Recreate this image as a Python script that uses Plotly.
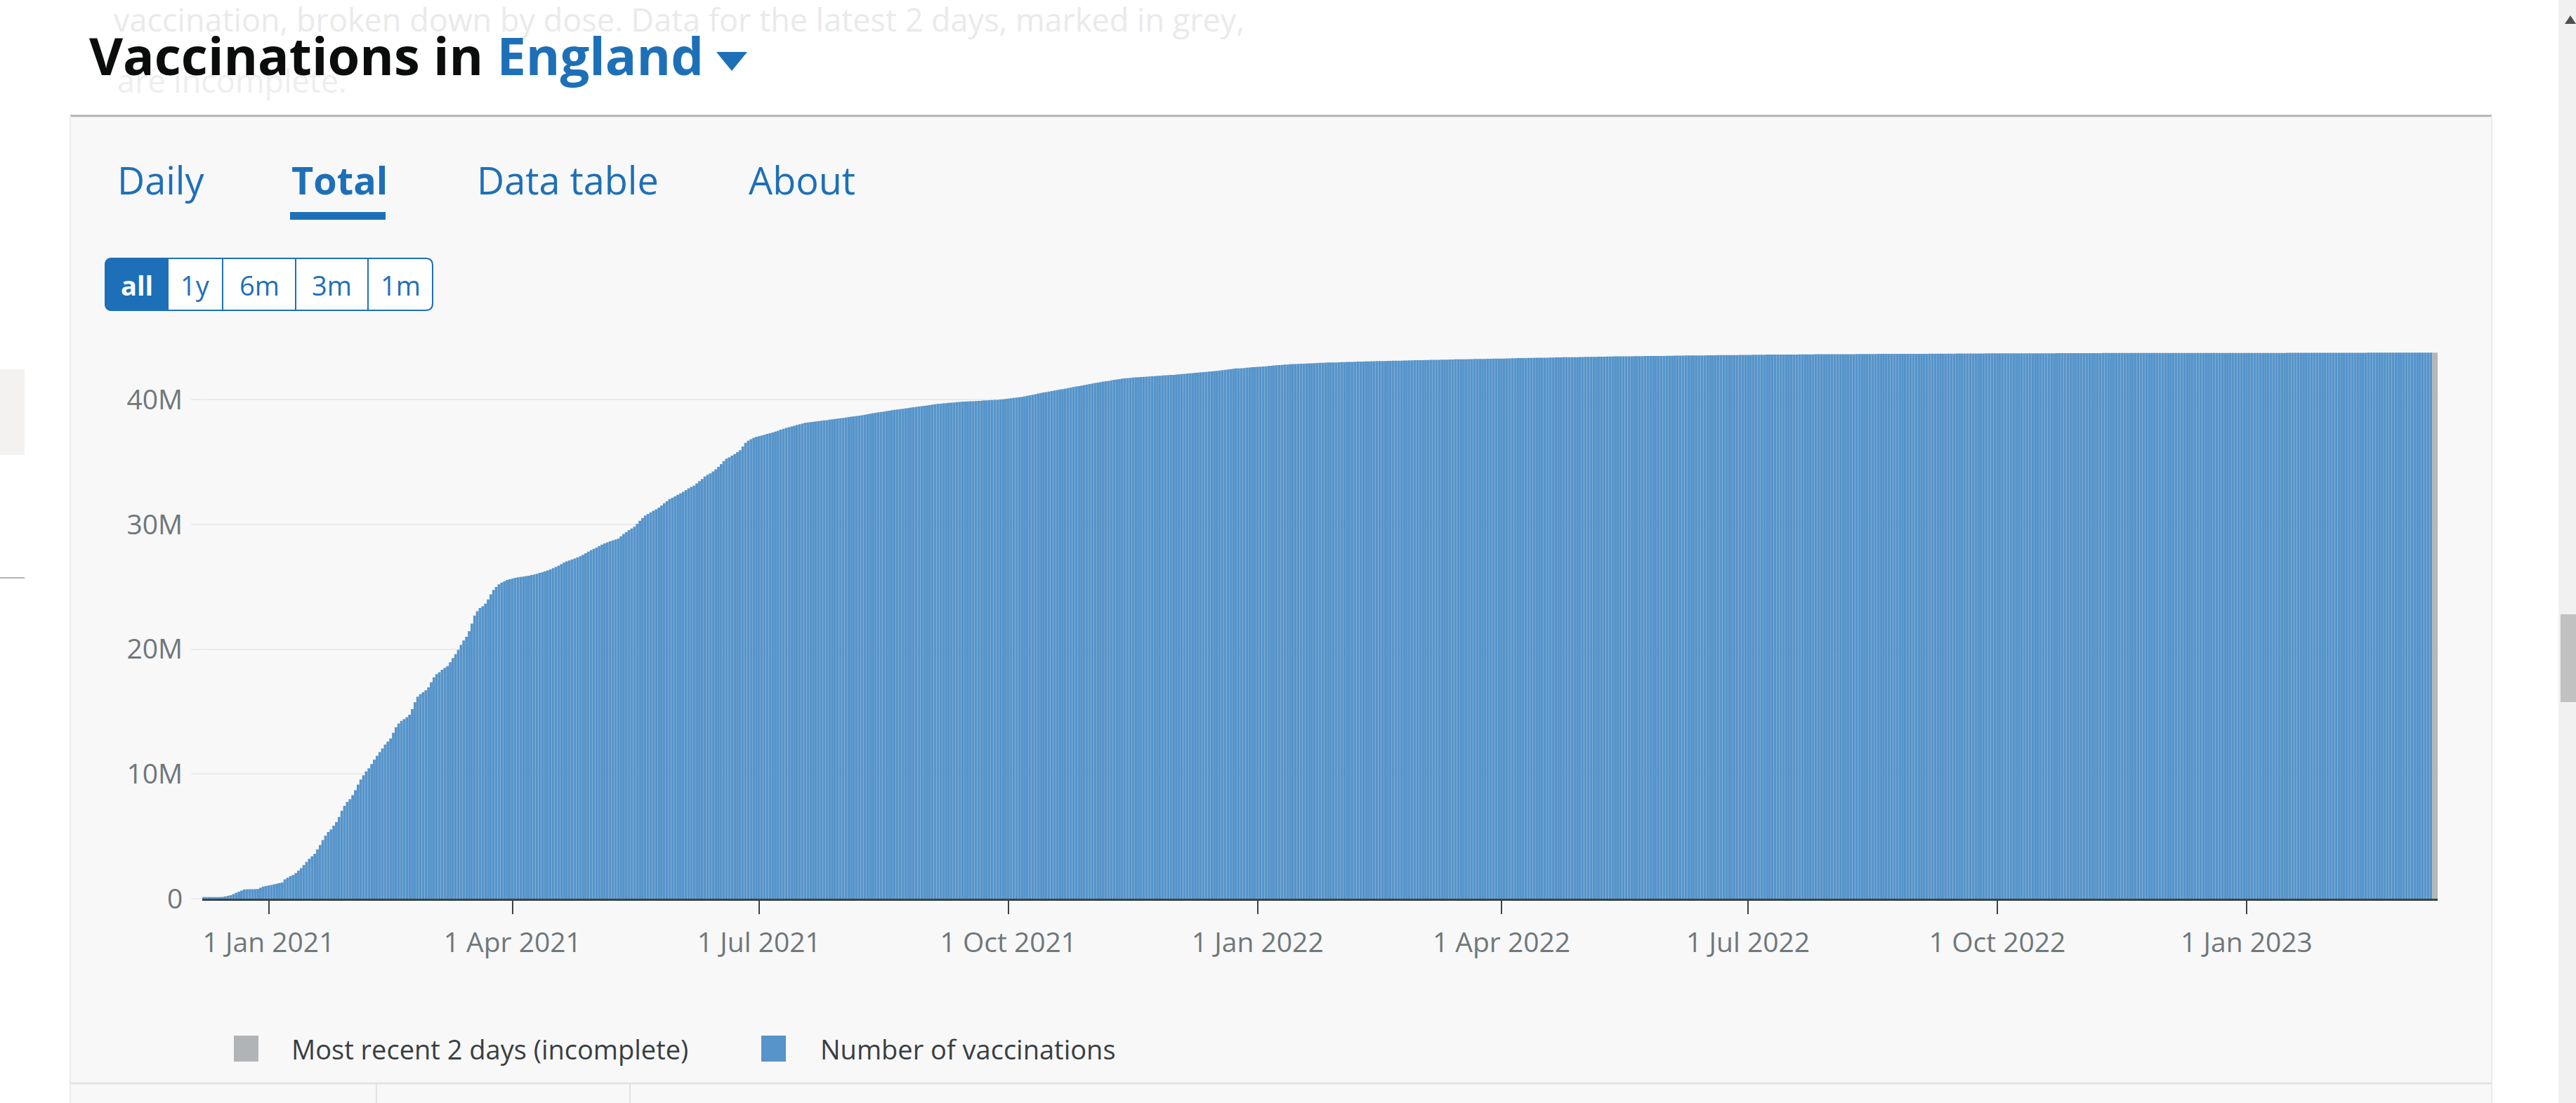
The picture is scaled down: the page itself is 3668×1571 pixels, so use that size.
import pandas as pd
import plotly.graph_objects as go

# ---------------- data (cumulative vaccinations, millions, daily) ----------------
start_date = "2020-12-08"
end_date = "2023-03-12"

v2020_12 = [0.13,0.13,0.13,0.13,0.13,0.13,0.13,0.14,0.18,0.23,0.28,0.37,0.47,0.56,0.65,0.74,
            0.75,0.76,0.76,0.77,0.78,0.88,0.97,1.01]
v2021_01 = [1.06,1.10,1.15,1.20,1.25,1.30,1.55,1.68,1.80,1.90,2.05,2.25,2.45,2.70,2.95,3.20,
            3.40,3.60,3.95,4.30,4.70,5.05,5.35,5.55,5.85,6.15,6.55,7.05,7.45,7.75,7.98]
v2021_02 = [8.30,8.70,9.15,9.55,9.90,10.20,10.45,10.80,11.15,11.45,11.75,12.05,12.35,12.60,
            12.85,13.30,13.75,14.05,14.25,14.40,14.55,14.75,15.20,15.75,16.20,16.40,16.55,16.70]
v2021_03 = [16.95,17.35,17.75,18.00,18.15,18.35,18.50,18.65,18.95,19.30,19.60,19.95,20.35,
            20.70,21.00,21.45,22.05,22.70,23.05,23.30,23.45,23.65,24.00,24.40,24.75,25.00,
            25.20,25.35,25.45,25.55,25.62]
v2021_04 = [25.67,25.72,25.77,25.80,25.83,25.86,25.90,25.95,26.00,26.05,26.12,26.18,26.25,
            26.32,26.40,26.50,26.60,26.70,26.82,26.95,27.05,27.12,27.20,27.28,27.36,27.46,
            27.57,27.69,27.82,27.95]
v2021_05 = [28.05,28.15,28.28,28.38,28.48,28.57,28.65,28.72,28.80,28.87,29.05,29.25,29.40,
            29.55,29.68,29.82,30.05,30.30,30.52,30.72,30.85,30.98,31.10,31.22,31.35,31.52,
            31.70,31.88,32.05,32.15,32.25]
v2021_06 = [32.38,32.50,32.62,32.76,32.90,33.02,33.12,33.30,33.48,33.65,33.85,33.98,34.10,
            34.25,34.42,34.62,34.85,35.08,35.28,35.40,35.52,35.65,35.80,35.95,36.25,36.55,
            36.72,36.85,36.95,37.02]
v2021_07 = [37.08,37.14,37.20,37.26,37.32,37.38,37.45,37.52,37.60,37.67,37.74,37.80,37.86,
            37.92,37.98,38.04,38.10,38.15,38.18,38.21,38.24,38.27,38.30,38.32,38.35,38.37,
            38.40,38.43,38.46,38.49,38.52]
v2021_08 = [38.55,38.58,38.61,38.64,38.67,38.70,38.73,38.76,38.80,38.84,38.88,38.92,38.96,
            39.00,39.03,39.06,39.10,39.13,39.16,39.19,39.22,39.25,39.28,39.31,39.34,39.37,
            39.40,39.43,39.46,39.49,39.52]
v2021_09 = [39.55,39.58,39.61,39.64,39.67,39.69,39.71,39.73,39.75,39.77,39.79,39.81,39.83,
            39.85,39.86,39.87,39.88,39.89,39.90,39.91,39.93,39.95,39.96,39.97,39.98,39.99,
            40.00,40.02,40.04,40.06]
v2021_10 = [40.09,40.12,40.15,40.18,40.21,40.24,40.28,40.32,40.36,40.40,40.45,40.50,40.54,
            40.58,40.62,40.66,40.70,40.74,40.78,40.82,40.86,40.90,40.94,40.98,41.02,41.06,
            41.10,41.14,41.18,41.22,41.26]
v2021_11 = [41.30,41.34,41.38,41.42,41.46,41.49,41.52,41.56,41.60,41.63,41.66,41.70,41.72,
            41.74,41.76,41.78,41.80,41.81,41.83,41.84,41.86,41.87,41.89,41.90,41.92,41.93,
            41.95,41.96,41.98,41.99]
v2021_12 = [42.00,42.02,42.04,42.06,42.08,42.10,42.12,42.14,42.16,42.18,42.20,42.22,42.24,
            42.26,42.28,42.30,42.32,42.35,42.38,42.40,42.43,42.46,42.49,42.51,42.52,42.53,
            42.55,42.57,42.59,42.61,42.63]
v2022_01 = [42.64,42.65,42.67,42.69,42.71,42.73,42.75,42.77,42.78,42.80,42.82,42.83,42.85,
            42.86,42.87,42.88,42.89,42.90,42.91,42.92,42.93,42.94,42.95,42.96,42.97,42.98,
            42.99,42.99,43.00,43.00,43.01]
v2022_02 = [43.02,43.02,43.03,43.04,43.04,43.05,43.06,43.06,43.07,43.08,43.08,43.09,43.09,
            43.10,43.10,43.11,43.11,43.12,43.12,43.13,43.13,43.14,43.14,43.15,43.15,43.16,
            43.16,43.17]
v2022_03 = [43.17,43.18,43.18,43.19,43.19,43.20,43.20,43.21,43.21,43.22,43.22,43.22,43.23,
            43.23,43.24,43.24,43.25,43.25,43.25,43.26,43.26,43.27,43.27,43.28,43.28,43.28,
            43.29,43.29,43.30,43.30,43.30]
v2022_04 = [43.31,43.31,43.32,43.32,43.33,43.33,43.34,43.34,43.35,43.35,43.36,43.36,43.36,
            43.37,43.37,43.38,43.38,43.38,43.39,43.39,43.40,43.40,43.40,43.41,43.41,43.41,
            43.42,43.42,43.42,43.43]
v2022_05 = [43.43,43.44,43.44,43.45,43.45,43.45,43.46,43.46,43.46,43.47,43.47,43.47,43.48,
            43.48,43.48,43.48,43.49,43.49,43.49,43.50,43.50,43.50,43.50,43.51,43.51,43.51,
            43.51,43.52,43.52,43.52,43.52]
v2022_06 = [43.53,43.53,43.53,43.54,43.54,43.54,43.54,43.55,43.55,43.55,43.55,43.56,43.56,
            43.56,43.56,43.57,43.57,43.57,43.57,43.58,43.58,43.58,43.58,43.59,43.59,43.59,
            43.59,43.60,43.60,43.60]
v2022_07 = [43.60,43.60,43.61,43.61,43.61,43.61,43.61,43.62,43.62,43.62,43.62,43.62,43.62,
            43.63,43.63,43.63,43.63,43.63,43.63,43.64,43.64,43.64,43.64,43.64,43.64,43.65,
            43.65,43.65,43.65,43.65,43.65]
v2022_08 = [43.65,43.66,43.66,43.66,43.66,43.66,43.66,43.66,43.66,43.67,43.67,43.67,43.67,
            43.67,43.67,43.67,43.67,43.68,43.68,43.68,43.68,43.68,43.68,43.68,43.68,43.68,
            43.69,43.69,43.69,43.69,43.69]
v2022_09 = [43.69,43.69,43.69,43.69,43.69,43.70,43.70,43.70,43.70,43.70,43.70,43.70,43.70,
            43.70,43.70,43.71,43.71,43.71,43.71,43.71,43.71,43.71,43.71,43.71,43.71,43.71,
            43.72,43.72,43.72,43.72]
v2022_10 = [43.72,43.72,43.72,43.72,43.72,43.72,43.72,43.72,43.72,43.73,43.73,43.73,43.73,
            43.73,43.73,43.73,43.73,43.73,43.73,43.73,43.73,43.73,43.74,43.74,43.74,43.74,
            43.74,43.74,43.74,43.74,43.74]
v2022_11 = [43.74,43.74,43.74,43.74,43.74,43.74,43.74,43.74,43.75,43.75,43.75,43.75,43.75,
            43.75,43.75,43.75,43.75,43.75,43.75,43.75,43.75,43.75,43.75,43.75,43.75,43.75,
            43.75,43.75,43.75,43.75]
v2022_12 = [43.75,43.75,43.75,43.75,43.75,43.75,43.75,43.75,43.75,43.75,43.75,43.75,43.75,
            43.75,43.75,43.76,43.76,43.76,43.76,43.76,43.76,43.76,43.76,43.76,43.76,43.76,
            43.76,43.76,43.76,43.76,43.76]
v2023_01 = [43.76,43.76,43.76,43.76,43.76,43.76,43.76,43.76,43.76,43.76,43.76,43.76,43.76,
            43.76,43.76,43.77,43.77,43.77,43.77,43.77,43.77,43.77,43.77,43.77,43.77,43.77,
            43.77,43.77,43.77,43.77,43.77]
v2023_02 = [43.77,43.77,43.77,43.77,43.77,43.77,43.77,43.77,43.77,43.77,43.77,43.77,43.77,
            43.77,43.78,43.78,43.78,43.78,43.78,43.78,43.78,43.78,43.78,43.78,43.78,43.78,
            43.78,43.78]
v2023_03 = [43.78,43.78,43.78,43.78,43.78,43.78,43.78,43.78,43.78,43.78,43.78,43.78]

incomplete_days = 2
y_tickvals = [0, 10e6, 20e6, 30e6, 40e6]
y_ticktext = ["0", "10M", "20M", "30M", "40M"]
legend_labels = ["Most recent 2 days (incomplete)", "Number of vaccinations"]

months = [v2020_12, v2021_01, v2021_02, v2021_03, v2021_04, v2021_05, v2021_06, v2021_07,
          v2021_08, v2021_09, v2021_10, v2021_11, v2021_12, v2022_01, v2022_02, v2022_03,
          v2022_04, v2022_05, v2022_06, v2022_07, v2022_08, v2022_09, v2022_10, v2022_11,
          v2022_12, v2023_01, v2023_02, v2023_03]
values_m = [v for m in months for v in m]
dates = pd.date_range(start_date, end_date, freq="D")
assert len(dates) == len(values_m), (len(dates), len(values_m))
values = [v * 1e6 for v in values_m]

blue_x, blue_y = dates[:-incomplete_days], values[:-incomplete_days]
grey_x, grey_y = dates[-incomplete_days:], values[-incomplete_days:]

# ---------------- layout geometry (pixels) ----------------
W, H = 3668, 1571
L, R, T, B = 288, 197, 460, 291
BLUE = "#1d70b8"
BAR_BLUE = "#5694ca"
GREY = "#b1b4b6"
FONT = "Open Sans"


def px(x):
    return (x - L) / (W - L - R)


def py(y):
    return (H - B - y) / (H - T - B)


shapes = []
annotations = []


def rect(x0, y0, x1, y1, fill, line_color=None, lw=0, layer="below"):
    shapes.append(dict(type="rect", xref="paper", yref="paper",
                       x0=px(x0), x1=px(x1), y0=py(y1), y1=py(y0),
                       fillcolor=fill, layer=layer,
                       line=dict(width=lw, color=line_color or fill)))


def line(x0, y0, x1, y1, color, lw, layer="below"):
    shapes.append(dict(type="line", xref="paper", yref="paper",
                       x0=px(x0), x1=px(x1), y0=py(y0), y1=py(y1),
                       layer=layer, line=dict(width=lw, color=color)))


def path(points_cmds, fill, line_color=None, lw=0, layer="below"):
    parts = []
    for cmd, pts in points_cmds:
        coords = " ".join(f"{px(a):.6f},{py(b):.6f}" for a, b in pts)
        parts.append(f"{cmd}{coords}")
    shapes.append(dict(type="path", xref="paper", yref="paper", path=" ".join(parts) + " Z",
                       fillcolor=fill, layer=layer,
                       line=dict(width=lw, color=line_color or fill)))


def text(x, y, s, size, color, xanchor="left", bold=False, family=FONT):
    annotations.append(dict(xref="paper", yref="paper", x=px(x), y=py(y),
                            xanchor=xanchor, yanchor="middle", showarrow=False,
                            text=f"<b>{s}</b>" if bold else s,
                            font=dict(family=family, size=size, color=color)))


# page elements
rect(3643, 0, 3668, 1571, "#f1f1f1")
rect(3646, 875, 3668, 1000, "#c1c1c1")
path([("M", [(3652, 34)]), ("L", [(3668, 34)]), ("L", [(3660, 22)])], "#505050")
rect(0, 526, 35, 648, "#f3f2f1")
line(0, 823, 35, 823, "#b1b4b6", 2)

# card
rect(100, 165, 3548, 1600, "#f8f8f8")
line(100, 165, 3548, 165, "#b1b4b6", 3)
line(3548, 165, 3548, 1571, "#ececec", 2)
line(100, 165, 100, 1571, "#ececec", 2)
line(100, 1543, 3548, 1543, "#e3e3e3", 3)
line(536, 1543, 536, 1571, "#e3e3e3", 2)
line(897, 1543, 897, 1571, "#e3e3e3", 2)

# faint text behind heading
text(160, 27, "vaccination, broken down by dose. Data for the latest 2 days, marked in grey,",
     45, "#eaeaea")
text(165, 114, "are incomplete.", 45, "#eeeeee")

# heading
text(125, 78, f"Vaccinations in <span style='color:{BLUE}'>England</span>", 74, "#0b0c0c",
     bold=True)
path([("M", [(1020, 74)]), ("L", [(1064, 74)]), ("L", [(1042, 101)])], BLUE)

# tabs
text(165, 256, "Daily", 54, BLUE)
text(413, 256, "Total", 54, BLUE, bold=True)
text(677, 256, "Data table", 54, BLUE)
text(1064, 256, "About", 54, BLUE)
rect(413, 302, 549, 313, BLUE)

# range buttons
bx0, by0, bx1, by1, rr = 150, 368, 616, 442, 10
path([("M", [(bx0 + rr, by0)]), ("L", [(bx1 - rr, by0)]), ("Q", [(bx1, by0), (bx1, by0 + rr)]),
      ("L", [(bx1, by1 - rr)]), ("Q", [(bx1, by1), (bx1 - rr, by1)]), ("L", [(bx0 + rr, by1)]),
      ("Q", [(bx0, by1), (bx0, by1 - rr)]), ("L", [(bx0, by0 + rr)]),
      ("Q", [(bx0, by0), (bx0 + rr, by0)])], "#ffffff", BLUE, 2)
path([("M", [(239, by0)]), ("L", [(bx0 + rr, by0)]), ("Q", [(bx0, by0), (bx0, by0 + rr)]),
      ("L", [(bx0, by1 - rr)]), ("Q", [(bx0, by1), (bx0 + rr, by1)]), ("L", [(239, by1)])],
     BLUE, BLUE, 2)
for xd in (317, 421, 524):
    line(xd, by0, xd, by1, BLUE, 2)
btn_labels = ["all", "1y", "6m", "3m", "1m"]
btn_centres = [194.5, 278, 369, 472.5, 570]
for lab, cx in zip(btn_labels, btn_centres):
    text(cx, 406, lab, 38, "#ffffff" if lab == "all" else BLUE, xanchor="center",
         bold=(lab == "all"))

# legend (drawn manually so squares match the page size)
rect(333, 1475, 368, 1512, GREY, layer="above")
text(413, 1494, legend_labels[0], 38, "#383f43")
rect(1084, 1475, 1119, 1512, BAR_BLUE, layer="above")
text(1166, 1494, legend_labels[1], 38, "#383f43")

# ---------------- figure ----------------
fig = go.Figure()
fig.add_trace(go.Bar(x=blue_x, y=blue_y, name=legend_labels[1],
                     marker=dict(color=BAR_BLUE, line=dict(width=0))))
fig.add_trace(go.Bar(x=grey_x, y=grey_y, name=legend_labels[0],
                     marker=dict(color=GREY, line=dict(width=0))))

fig.update_layout(
    width=W, height=H,
    margin=dict(l=L, r=R, t=T, b=B, pad=0),
    paper_bgcolor="#ffffff", plot_bgcolor="rgba(0,0,0,0)",
    barmode="overlay", bargap=0.02,
    showlegend=False,
    font=dict(family=FONT, color="#6f777b"),
    shapes=shapes, annotations=annotations,
    xaxis=dict(type="date", range=["2020-12-07 12:00", "2023-03-12 12:00"],
               tick0="2021-01-01", dtick="M3", tickformat="%-d %b %Y",
               ticks="outside", ticklen=19, tickwidth=2, tickcolor="#3c4245",
               showline=True, linecolor="#3c4245", linewidth=3,
               showgrid=False, zeroline=False, ticklabelstandoff=7,
               tickfont=dict(family=FONT, size=39, color="#6f777b")),
    yaxis=dict(range=[0, 46.16e6], tickvals=y_tickvals, ticktext=y_ticktext,
               showgrid=True, gridcolor="#ebebeb", gridwidth=2, zeroline=False,
               ticks="outside", ticklen=15, tickwidth=2, tickcolor="#ebebeb",
               showline=False, ticklabelstandoff=4,
               tickfont=dict(family=FONT, size=39, color="#6f777b")),
)

fig.write_html("out.html", config={"displayModeBar": False},
               post_script="document.body.style.margin='0';")
